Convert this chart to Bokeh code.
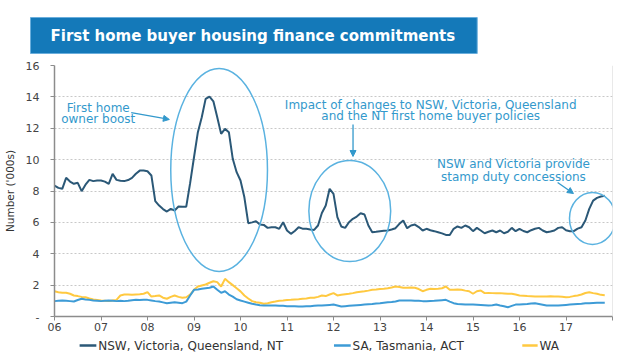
import pandas as pd
from bokeh.plotting import figure
from bokeh.layouts import column
from bokeh.models import Range1d, FixedTicker, Arrow, NormalHead, Span, Title
from bokeh.core.properties import value
from bokeh.embed import file_html
from bokeh.resources import INLINE

# ---------------- data ----------------
title_text = "First home buyer housing finance commitments"
y_axis_title = "Number ('000s)"
series_names = ["NSW, Victoria, Queensland, NT", "SA, Tasmania, ACT", "WA"]
year_ticks = list(range(2006, 2019))
year_labels = ["06", "07", "08", "09", "10", "11", "12", "13", "14", "15", "16", "17", ""]
y_ticks = [0, 2, 4, 6, 8, 10, 12, 14, 16]
y_labels = ["-", "2", "4", "6", "8", "10", "12", "14", "16"]

months = pd.period_range("2006-01", periods=143, freq="M")

nsw = [
    8.35, 8.2, 8.14, 8.84, 8.6, 8.46, 8.52, 7.99, 8.4, 8.71, 8.63, 8.67,
    8.67, 8.6, 8.46, 9.09, 8.71, 8.65, 8.63, 8.7, 8.84, 9.1, 9.3, 9.3,
    9.26, 8.99, 7.35, 7.07, 6.85, 6.69, 6.86, 6.76, 7.01, 7.0, 7.0, 8.5,
    10.15, 11.75, 12.7, 13.87, 14.02, 13.72, 12.7, 11.64, 11.96, 11.75, 10.05, 9.2,
    8.67, 7.6, 5.95, 6.0, 6.07, 5.86, 5.84, 5.65, 5.69, 5.69, 5.59, 6.01,
    5.48, 5.27, 5.45, 5.69, 5.6, 5.59, 5.55, 5.52, 5.8, 6.6, 7.07, 8.14,
    7.82, 6.33, 5.74, 5.65, 6.01, 6.23, 6.37, 6.58, 6.5, 5.8, 5.37, 5.4,
    5.44, 5.46, 5.48, 5.55, 5.63, 5.91, 6.12, 5.63, 5.8, 5.86, 5.7, 5.48,
    5.59, 5.5, 5.44, 5.37, 5.3, 5.2, 5.2, 5.59, 5.74, 5.65, 5.8, 5.69,
    5.44, 5.65, 5.48, 5.31, 5.4, 5.48, 5.37, 5.48, 5.31, 5.4, 5.65, 5.44,
    5.59, 5.45, 5.37, 5.5, 5.59, 5.65, 5.48, 5.37, 5.42, 5.48, 5.65, 5.69,
    5.5, 5.44, 5.44, 5.6, 5.69, 6.12, 6.86, 7.39, 7.56, 7.65, 7.7,
]

sa = [
    0.98, 1.0, 1.02, 1.0, 0.98, 0.96, 1.05, 1.13, 1.08, 1.06, 1.02, 1.0,
    0.98, 1.0, 1.02, 1.0, 0.98, 1.0, 0.98, 1.0, 1.04, 1.06, 1.05, 1.06,
    1.06, 1.02, 0.98, 0.95, 0.9, 0.85, 0.88, 0.91, 0.88, 0.85, 0.95, 1.34,
    1.7, 1.72, 1.77, 1.8, 1.83, 1.91, 1.7, 1.51, 1.61, 1.4, 1.27, 1.1,
    1.02, 0.95, 0.88, 0.81, 0.76, 0.72, 0.7, 0.7, 0.7, 0.7, 0.69, 0.68,
    0.66, 0.66, 0.65, 0.64, 0.64, 0.65, 0.66, 0.68, 0.7, 0.7, 0.72, 0.74,
    0.76, 0.7, 0.64, 0.66, 0.68, 0.7, 0.72, 0.74, 0.76, 0.78, 0.8, 0.83,
    0.85, 0.88, 0.91, 0.93, 0.96, 1.02, 1.02, 1.02, 1.02, 1.0, 1.0, 0.98,
    0.98, 0.99, 1.0, 1.02, 1.04, 1.06, 0.95, 0.85, 0.8, 0.78, 0.76, 0.76,
    0.76, 0.75, 0.74, 0.72, 0.7, 0.72, 0.76, 0.7, 0.65, 0.59, 0.68, 0.76,
    0.76, 0.78, 0.8, 0.83, 0.85, 0.8, 0.75, 0.7, 0.7, 0.7, 0.7, 0.72,
    0.74, 0.76, 0.78, 0.8, 0.82, 0.85, 0.85, 0.86, 0.87, 0.87, 0.87,
]

wa = [
    1.61, 1.55, 1.51, 1.51, 1.45, 1.34, 1.3, 1.25, 1.23, 1.15, 1.08, 1.05,
    1.02, 1.0, 0.98, 1.02, 1.06, 1.34, 1.4, 1.4, 1.38, 1.4, 1.42, 1.45,
    1.55, 1.27, 1.3, 1.34, 1.2, 1.13, 1.25, 1.34, 1.25, 1.19, 1.23, 1.4,
    1.7, 1.91, 1.98, 2.04, 2.15, 2.25, 2.19, 1.91, 2.4, 2.19, 2.0, 1.8,
    1.6, 1.34, 1.15, 0.98, 0.91, 0.88, 0.81, 0.85, 0.91, 0.95, 1.0, 1.02,
    1.05, 1.06, 1.08, 1.1, 1.13, 1.15, 1.19, 1.2, 1.25, 1.34, 1.3, 1.4,
    1.49, 1.34, 1.38, 1.42, 1.45, 1.49, 1.55, 1.58, 1.61, 1.65, 1.7, 1.72,
    1.75, 1.77, 1.8, 1.85, 1.91, 1.88, 1.83, 1.83, 1.85, 1.83, 1.75, 1.61,
    1.7, 1.77, 1.75, 1.77, 1.8, 1.91, 1.7, 1.7, 1.72, 1.7, 1.65, 1.61,
    1.45, 1.61, 1.66, 1.49, 1.5, 1.49, 1.48, 1.49, 1.47, 1.45, 1.45, 1.4,
    1.34, 1.32, 1.3, 1.29, 1.28, 1.27, 1.28, 1.27, 1.29, 1.28, 1.27, 1.26,
    1.23, 1.25, 1.3, 1.34, 1.4, 1.5, 1.55, 1.49, 1.45, 1.38, 1.36,
]

# annotations (data coordinates)
note_lines = ["First home", "owner boost",
              "Impact of changes to NSW, Victoria, Queensland", "and the NT first home buyer policies",
              "NSW and Victoria provide", "stamp duty concessions"]
note_x = [2006.94, 2006.94, 2014.09, 2014.09, 2015.87, 2015.87]
note_y = [13.32, 12.62, 13.51, 12.75, 9.69, 8.92]
ell_x = [2009.54, 2012.35, 2017.57]
ell_y = [9.34, 6.72, 6.25]
ell_w = [2.08, 1.76, 0.99]
ell_h = [12.94, 6.44, 3.31]
arrows = [(2007.65, 13.0, 2008.47, 12.56), (2012.42, 12.24, 2012.42, 10.2), (2016.82, 8.54, 2017.16, 7.84)]

# legend key positions (same x scale as the chart)
key_x0 = [2006.54, 2012.01, 2016.06]
key_x1 = [2006.90, 2012.37, 2016.39]

# ---------------- styling ----------------
FONT = "DejaVu Sans"
W = 619
C_NSW = "#2B5877"
C_SA = "#3D9BD6"
C_WA = "#FFC940"
C_NOTE = "#3399CC"
C_ELL = "#5AB2E0"
colors = [C_NSW, C_SA, C_WA]

x = [m.year + (m.month - 1) / 12 for m in months]

p = figure(width=W, height=337, x_range=Range1d(2006, 2018), y_range=Range1d(0, 16),
           output_backend="svg", toolbar_location=None,
           min_border_left=53, min_border_right=7, min_border_top=65, min_border_bottom=21)
p.outline_line_color = None
p.xgrid.visible = False
p.ygrid.grid_line_color = "#c8c8c8"
p.ygrid.grid_line_dash = "2 2"
p.ygrid.ticker = FixedTicker(ticks=y_ticks)

p.xaxis.ticker = FixedTicker(ticks=year_ticks)
p.xaxis.major_label_overrides = {k: v for k, v in zip(year_ticks, year_labels)}
p.yaxis.ticker = FixedTicker(ticks=y_ticks)
p.yaxis.major_label_overrides = {k: v for k, v in zip(y_ticks, y_labels)}
p.yaxis.axis_label = y_axis_title

for ax in p.axis:
    ax.axis_line_color = "#8c8c8c"
    ax.axis_line_width = 1.5
    ax.major_tick_line_color = "#8c8c8c"
    ax.major_tick_out = 4
    ax.major_tick_in = 0
    ax.minor_tick_line_color = None
    ax.major_label_text_font = FONT
    ax.major_label_text_font_size = "11px"
    ax.major_label_text_color = "#444444"
    ax.axis_label_text_font = FONT
    ax.axis_label_text_font_size = "10.5px"
    ax.axis_label_text_font_style = "normal"
    ax.axis_label_text_color = "#333333"
p.xaxis.major_label_standoff = 2
p.yaxis.major_label_standoff = 11
p.yaxis.axis_label_standoff = 7

p.add_layout(Span(location=2018, dimension="height", line_color="#d4d4d4", line_width=1))

p.line(x, wa, color=C_WA, line_width=2)
p.line(x, sa, color=C_SA, line_width=2)
p.line(x, nsw, color=C_NSW, line_width=2)

p.ellipse(x=ell_x, y=ell_y, width=ell_w, height=ell_h, fill_color=None, line_color=C_ELL, line_width=1.5)
for xs, ys, xe, ye in arrows:
    p.add_layout(Arrow(x_start=xs, y_start=ys, x_end=xe, y_end=ye, line_color=C_NOTE, line_width=1.3,
                       end=NormalHead(size=6, fill_color=C_NOTE, line_color=C_NOTE)))
p.text(x=note_x, y=note_y, text=note_lines, text_font=value(FONT), text_font_size="12px",
       text_color=C_NOTE, text_align="center", text_baseline="middle")

# ---------------- title banner ----------------
banner = Title(text=title_text, align="left", offset=-24, standoff=24,
               text_font=FONT, text_font_style="bold", text_font_size="15px", text_color="white",
               background_fill_color="#1479B9", border_line_color="#6aaedc",
               padding=dict(left=20, right=22, top=9, bottom=9))
p.add_layout(banner, "above")

# ---------------- legend strip (shares the chart's x scale) ----------------
lg = figure(width=W, height=18, x_range=p.x_range, y_range=Range1d(0, 1),
            output_backend="svg", toolbar_location=None, min_border=0,
            x_axis_location=None, y_axis_location=None)
lg.grid.visible = False
lg.outline_line_color = None
lg.segment(x0=key_x0, y0=[0.55] * 3, x1=key_x1, y1=[0.55] * 3, line_color=colors, line_width=2.5)
lg.text(x=[v + 0.04 for v in key_x1], y=[0.55] * 3, text=series_names, text_font=value(FONT),
        text_font_size="12px", text_color="#333333", text_align="left", text_baseline="middle")

open("out.html", "w").write(file_html(column(p, lg, spacing=0), INLINE))
